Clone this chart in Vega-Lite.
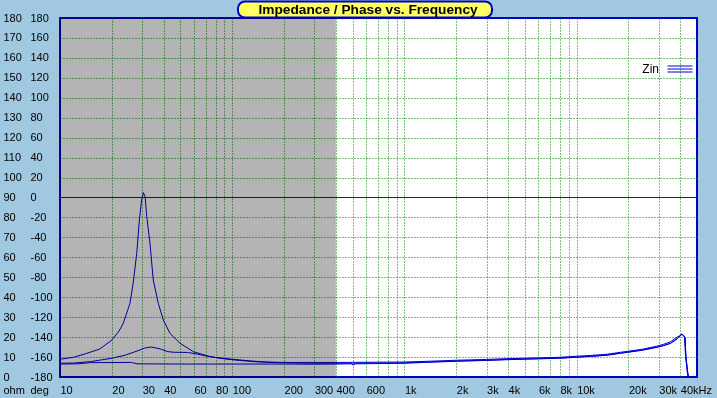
{
"$schema": "https://vega.github.io/schema/vega-lite/v6.json",
"width": 637, "height": 359,
"autosize": {"type": "none"},
"padding": {"left": 60, "top": 18, "right": 20, "bottom": 21},
"background": "#a0c8e0",
"view": {"fill": "white", "stroke": "#0000c8", "strokeWidth": 2},
"config": {"font": "Liberation Sans"},
"datasets": {
"curves": [
{"curve":"A","group":"Zin","freq":10,"ohm":8.9},{"curve":"A","group":"Zin","freq":12,"ohm":9.9},{"curve":"A","group":"Zin","freq":14,"ohm":11.6},{"curve":"A","group":"Zin","freq":17,"ohm":14.0},{"curve":"A","group":"Zin","freq":20,"ohm":18.5},{"curve":"A","group":"Zin","freq":22,"ohm":23.0},{"curve":"A","group":"Zin","freq":23.3,"ohm":26.9},{"curve":"A","group":"Zin","freq":25.5,"ohm":37.0},{"curve":"A","group":"Zin","freq":26.6,"ohm":47.0},{"curve":"A","group":"Zin","freq":27.9,"ohm":62.0},{"curve":"A","group":"Zin","freq":28.9,"ohm":78.7},{"curve":"A","group":"Zin","freq":29.8,"ohm":88.8},{"curve":"A","group":"Zin","freq":30.5,"ohm":92.4},{"curve":"A","group":"Zin","freq":31.2,"ohm":90.4},{"curve":"A","group":"Zin","freq":31.9,"ohm":80.4},{"curve":"A","group":"Zin","freq":33.3,"ohm":67.1},{"curve":"A","group":"Zin","freq":34.8,"ohm":48.6},{"curve":"A","group":"Zin","freq":37.2,"ohm":37.0},{"curve":"A","group":"Zin","freq":39.8,"ohm":28.6},{"curve":"A","group":"Zin","freq":43.5,"ohm":21.9},{"curve":"A","group":"Zin","freq":49.8,"ohm":16.9},{"curve":"A","group":"Zin","freq":59.5,"ohm":12.7},{"curve":"A","group":"Zin","freq":74.4,"ohm":10.2},{"curve":"A","group":"Zin","freq":90,"ohm":9.1},{"curve":"A","group":"Zin","freq":110,"ohm":8.3},{"curve":"A","group":"Zin","freq":140,"ohm":7.6},{"curve":"A","group":"Zin","freq":180,"ohm":7.2},{"curve":"A","group":"Zin","freq":250,"ohm":7.0},{"curve":"A","group":"Zin","freq":330,"ohm":6.9},{"curve":"A","group":"Zin","freq":400,"ohm":6.9},{"curve":"A","group":"Zin","freq":490,"ohm":6.9},{"curve":"A","group":"Zin","freq":505,"ohm":6.4},{"curve":"A","group":"Zin","freq":520,"ohm":6.9},{"curve":"A","group":"Zin","freq":1000,"ohm":7.1},{"curve":"A","group":"Zin","freq":1500,"ohm":7.6},{"curve":"A","group":"Zin","freq":2000,"ohm":8.0},{"curve":"A","group":"Zin","freq":3000,"ohm":8.4},{"curve":"A","group":"Zin","freq":4000,"ohm":8.8},{"curve":"A","group":"Zin","freq":6000,"ohm":9.2},{"curve":"A","group":"Zin","freq":8000,"ohm":9.5},{"curve":"A","group":"Zin","freq":10000,"ohm":10.0},{"curve":"A","group":"Zin","freq":12000,"ohm":10.4},{"curve":"A","group":"Zin","freq":15000,"ohm":11.0},{"curve":"A","group":"Zin","freq":18000,"ohm":12.0},{"curve":"A","group":"Zin","freq":24000,"ohm":13.5},{"curve":"A","group":"Zin","freq":29000,"ohm":14.9},{"curve":"A","group":"Zin","freq":32000,"ohm":15.8},{"curve":"A","group":"Zin","freq":35000,"ohm":16.9},{"curve":"A","group":"Zin","freq":38300,"ohm":19.2},{"curve":"A","group":"Zin","freq":40800,"ohm":21.6},{"curve":"A","group":"Zin","freq":42600,"ohm":20.1},{"curve":"A","group":"Zin","freq":43100,"ohm":10.2},{"curve":"A","group":"Zin","freq":44200,"ohm":2.0},{"curve":"A","group":"Zin","freq":44600,"ohm":0},
{"curve":"B","group":"Zin","freq":10,"ohm":6.9},{"curve":"B","group":"Zin","freq":12,"ohm":7.0},{"curve":"B","group":"Zin","freq":15,"ohm":7.7},{"curve":"B","group":"Zin","freq":20,"ohm":9.4},{"curve":"B","group":"Zin","freq":24,"ohm":11.0},{"curve":"B","group":"Zin","freq":28.4,"ohm":13.2},{"curve":"B","group":"Zin","freq":31,"ohm":14.5},{"curve":"B","group":"Zin","freq":33.5,"ohm":15.0},{"curve":"B","group":"Zin","freq":36,"ohm":14.6},{"curve":"B","group":"Zin","freq":38.8,"ohm":13.9},{"curve":"B","group":"Zin","freq":42.3,"ohm":12.7},{"curve":"B","group":"Zin","freq":46,"ohm":12.4},{"curve":"B","group":"Zin","freq":55,"ohm":12.3},{"curve":"B","group":"Zin","freq":60,"ohm":11.8},{"curve":"B","group":"Zin","freq":70,"ohm":10.6},{"curve":"B","group":"Zin","freq":80,"ohm":9.8},{"curve":"B","group":"Zin","freq":100,"ohm":8.9},{"curve":"B","group":"Zin","freq":130,"ohm":8.0},{"curve":"B","group":"Zin","freq":160,"ohm":7.5},{"curve":"B","group":"Zin","freq":200,"ohm":7.3},{"curve":"B","group":"Zin","freq":300,"ohm":7.3},{"curve":"B","group":"Zin","freq":400,"ohm":7.3},{"curve":"B","group":"Zin","freq":1000,"ohm":7.5},{"curve":"B","group":"Zin","freq":1500,"ohm":8.0},{"curve":"B","group":"Zin","freq":2000,"ohm":8.4},{"curve":"B","group":"Zin","freq":3000,"ohm":8.8},{"curve":"B","group":"Zin","freq":4000,"ohm":9.2},{"curve":"B","group":"Zin","freq":6000,"ohm":9.6},{"curve":"B","group":"Zin","freq":8000,"ohm":9.9},{"curve":"B","group":"Zin","freq":10000,"ohm":10.4},{"curve":"B","group":"Zin","freq":12000,"ohm":10.8},{"curve":"B","group":"Zin","freq":15000,"ohm":11.4},{"curve":"B","group":"Zin","freq":18000,"ohm":12.4},{"curve":"B","group":"Zin","freq":24000,"ohm":13.9},{"curve":"B","group":"Zin","freq":29000,"ohm":15.4},{"curve":"B","group":"Zin","freq":32000,"ohm":16.4},{"curve":"B","group":"Zin","freq":35000,"ohm":17.6},{"curve":"B","group":"Zin","freq":38000,"ohm":19.8},{"curve":"B","group":"Zin","freq":40300,"ohm":21.0},{"curve":"B","group":"Zin","freq":41300,"ohm":21.4},{"curve":"B","group":"Zin","freq":42300,"ohm":19.8},{"curve":"B","group":"Zin","freq":42900,"ohm":10.5},{"curve":"B","group":"Zin","freq":43900,"ohm":2.5},{"curve":"B","group":"Zin","freq":44400,"ohm":0},
{"curve":"C","group":"Zin","freq":10,"ohm":6.5},{"curve":"C","group":"Zin","freq":12.7,"ohm":6.6},{"curve":"C","group":"Zin","freq":15,"ohm":7.2},{"curve":"C","group":"Zin","freq":26,"ohm":7.3},{"curve":"C","group":"Zin","freq":28,"ohm":6.6},{"curve":"C","group":"Zin","freq":50,"ohm":6.5},{"curve":"C","group":"Zin","freq":100,"ohm":6.5},{"curve":"C","group":"Zin","freq":200,"ohm":6.5},{"curve":"C","group":"Zin","freq":300,"ohm":6.4},{"curve":"C","group":"Zin","freq":400,"ohm":6.5},{"curve":"C","group":"Zin","freq":490,"ohm":6.6},{"curve":"C","group":"Zin","freq":505,"ohm":6.1},{"curve":"C","group":"Zin","freq":520,"ohm":6.6},{"curve":"C","group":"Zin","freq":1000,"ohm":6.9},{"curve":"C","group":"Zin","freq":1500,"ohm":7.5},{"curve":"C","group":"Zin","freq":2000,"ohm":7.9},{"curve":"C","group":"Zin","freq":3000,"ohm":8.3},{"curve":"C","group":"Zin","freq":4000,"ohm":8.7},{"curve":"C","group":"Zin","freq":6000,"ohm":9.1},{"curve":"C","group":"Zin","freq":8000,"ohm":9.4},{"curve":"C","group":"Zin","freq":10000,"ohm":9.9},{"curve":"C","group":"Zin","freq":12000,"ohm":10.3},{"curve":"C","group":"Zin","freq":15000,"ohm":10.9},{"curve":"C","group":"Zin","freq":18000,"ohm":11.9},{"curve":"C","group":"Zin","freq":24000,"ohm":13.4},{"curve":"C","group":"Zin","freq":29000,"ohm":14.8},{"curve":"C","group":"Zin","freq":32000,"ohm":15.7},{"curve":"C","group":"Zin","freq":35000,"ohm":16.8},{"curve":"C","group":"Zin","freq":38300,"ohm":19.1},{"curve":"C","group":"Zin","freq":40800,"ohm":21.5},{"curve":"C","group":"Zin","freq":42600,"ohm":20.0},{"curve":"C","group":"Zin","freq":43100,"ohm":10.1},{"curve":"C","group":"Zin","freq":44200,"ohm":1.9},{"curve":"C","group":"Zin","freq":44600,"ohm":0}
],
"shade": [{"from": 10, "to": 400}],
"one": [{}]
},
"layer": [
{
"data": {"name": "curves"},
"mark": {"type": "line", "strokeWidth": 1, "clip": true},
"encoding": {
"x": {"field": "freq", "type": "quantitative",
 "scale": {"type": "log", "domain": [10, 50000], "nice": false},
 "axis": {"title": null, "values": [10,20,30,40,50,60,70,80,90,100,200,300,400,500,600,700,800,900,1000,2000,3000,4000,5000,6000,7000,8000,9000,10000,20000,30000,40000],
  "labelExpr": "datum.value == 40000 ? '40kHz' : (indexof([10,20,30,40,60,80,100,200,300,400,600,1000,2000,3000,4000,6000,8000,10000,20000,30000], datum.value) >= 0 ? (datum.value >= 1000 ? (datum.value/1000) + 'k' : '' + datum.value) : '')",
  "labelAlign": "left", "labelBaseline": "middle", "labelPadding": 13, "labelFontSize": 11, "labelColor": "black", "labelFont": "Liberation Sans", "labelOverlap": false, "labelFlush": false, "labelBound": false,
  "domain": false, "ticks": false, "grid": true, "gridColor": "#008000", "gridDash": [1, 2], "gridWidth": 1,
  "gridOpacity": {"condition": {"test": "datum.value == 10", "value": 0}, "value": 1}}},
"y": {"field": "ohm", "type": "quantitative",
 "scale": {"domain": [0, 180], "nice": false, "zero": false},
 "axis": {"orient": "left", "values": [0,10,20,30,40,50,60,70,80,90,100,110,120,130,140,150,160,170,180],
  "labelAlign": "left", "labelBaseline": "middle", "labelPadding": 57, "labelFontSize": 11, "labelColor": "black", "labelFont": "Liberation Sans", "labelOverlap": false, "labelFlush": false, "labelBound": false,
  "domain": false, "ticks": false, "grid": true, "gridColor": "#008000", "gridDash": [1, 2], "gridWidth": 1,
  "gridOpacity": {"condition": {"test": "datum.value == 0 || datum.value == 90 || datum.value == 180", "value": 0}, "value": 1},
  "title": "ohm", "titleAngle": 0, "titleX": -57, "titleY": 372, "titleAlign": "left", "titleBaseline": "middle", "titleFontSize": 11, "titleFontWeight": "normal", "titleColor": "black", "titleFont": "Liberation Sans"}},
"detail": {"field": "curve"},
"color": {"field": "group", "type": "nominal", "scale": {"range": ["#0000d8"]},
 "legend": {"title": null, "orient": "none", "legendX": 607, "legendY": 38, "padding": 0,
  "symbolType": "M-1,-0.24H1M-1,0H1M-1,0.24H1", "symbolSize": 625, "symbolStrokeWidth": 1, "symbolFillColor": "transparent",
  "labelAlign": "right", "labelOffset": -34, "labelFontSize": 12, "labelColor": "black", "labelFont": "Liberation Sans"}}
}
},
{
"data": {"name": "one"},
"mark": {"type": "rule", "color": "#800000", "strokeWidth": 1},
"encoding": {
"y": {"datum": 90, "type": "quantitative",
 "scale": {"domain": [0, 180], "nice": false, "zero": false},
 "axis": {"orient": "left", "values": [0,10,20,30,40,50,60,70,80,90,100,110,120,130,140,150,160,170,180],
  "labelExpr": "'' + (datum.value * 2 - 180)",
  "labelAlign": "left", "labelBaseline": "middle", "labelPadding": 30, "labelFontSize": 11, "labelColor": "black", "labelFont": "Liberation Sans", "labelOverlap": false, "labelFlush": false, "labelBound": false,
  "domain": false, "ticks": false, "grid": false,
  "title": "deg", "titleAngle": 0, "titleX": -30, "titleY": 372, "titleAlign": "left", "titleBaseline": "middle", "titleFontSize": 11, "titleFontWeight": "normal", "titleColor": "black", "titleFont": "Liberation Sans"}}
}
},
{
"data": {"name": "shade"},
"mark": {"type": "rect", "fill": "#b4b4b4", "blend": "multiply"},
"encoding": {
"x": {"field": "from", "type": "quantitative"},
"x2": {"field": "to"},
"y": {"datum": 0, "type": "quantitative", "scale": {"domain": [0, 180], "nice": false, "zero": false}, "axis": null},
"y2": {"datum": 180}
}
},
{
"data": {"name": "one"},
"mark": {"type": "rect", "fill": "#ffff60", "stroke": "#0000c8", "strokeWidth": 2, "cornerRadius": 7, "clip": false},
"encoding": {
"x": {"datum": 108, "type": "quantitative"},
"x2": {"datum": 3226},
"y": {"datum": 180.2, "type": "quantitative", "scale": {"domain": [0, 180], "nice": false, "zero": false}, "axis": null},
"y2": {"datum": 188.3}
}
},
{
"data": {"name": "one"},
"mark": {"type": "text", "text": "Impedance / Phase vs. Frequency", "fontSize": 13.7, "fontWeight": "bold", "font": "Liberation Sans", "color": "black", "align": "center", "baseline": "middle", "clip": false},
"encoding": {
"x": {"datum": 615, "type": "quantitative"},
"y": {"datum": 184.1, "type": "quantitative", "scale": {"domain": [0, 180], "nice": false, "zero": false}, "axis": null}
}
}
],
"resolve": {"axis": {"y": "independent"}}
}
